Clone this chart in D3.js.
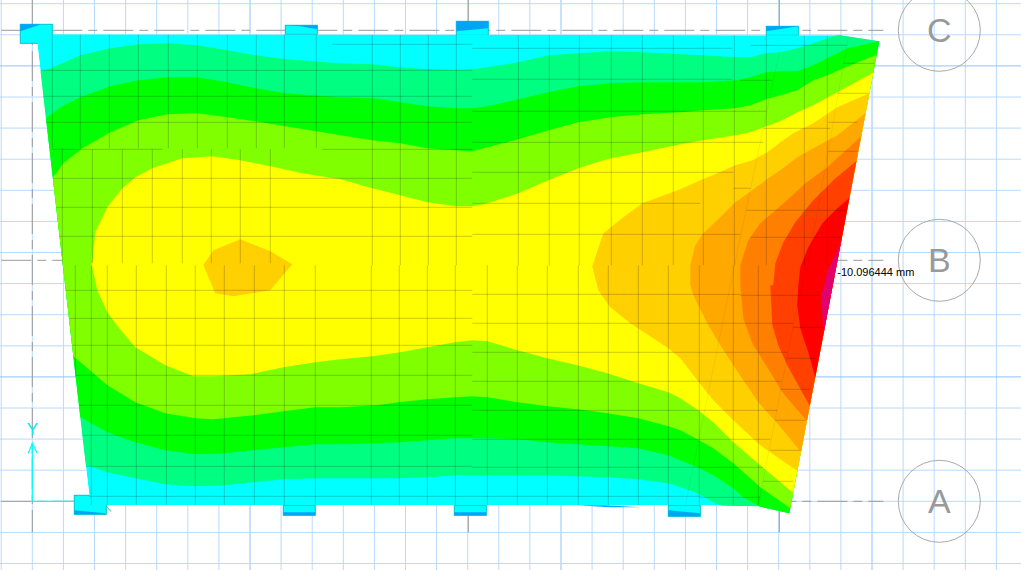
<!DOCTYPE html>
<html>
<head>
<meta charset="utf-8">
<script src="https://cdn.jsdelivr.net/npm/d3@7"></script>
<style>
  body { margin: 0; background: #fff; }
  svg { display: block; }
  text { font-family: "Liberation Sans", Arial, sans-serif; }
</style>
</head>
<body>
<div id="chart"></div>
<script>
var w = 1021;
var h = 570;

// plan coordinates, origin at grid intersection of the lower left axis
var gridStep = 31.1;
var gridX = d3.range(-1, 32);
var gridY = d3.range(-2, 17);
var gridMajorX = [7, 17, 27];
var gridMajorY = [4, 14];

var axisLabels = ["C", "B", "A"];
var axisY = [471, 241, 0];
var axisX = [0, 436, 747];
var bubbleX = 907;
var axisEndX = 851;
var axisEndY = -31;

var peakLabel = "-10.096444 mm";
var peakPoint = [805, 229];

var slabOutline = [[4,467],[438,466.5],[808,466],[847,460],[757,-12],[726,-5],[668,-4],[73,-4],[57,-4],[57,6]];

// column stubs: x0, x1, y0, y1
var columns = [
  [-12,20,458,477],
  [253,285,467,476],
  [424,456,466,480],
  [734,766,466,475],
  [42,74,-13,6],
  [251,283,-14,-4],
  [422,454,-14,-4],
  [636,668,-15,-4]
];
// the darker blue corners of the stubs
var columnBlue = [
  [[-12,477],[9,477],[-12,470]],
  [[253,476],[285,476],[285,472],[268,475]],
  [[424,480],[456,480],[456,473],[424,470]],
  [[734,475],[766,475],[734,470]],
  [[42,-9],[73,-12],[73,-13],[42,-13]],
  [[251,-11],[283,-11],[283,-14],[251,-14]],
  [[422,-11],[454,-11],[454,-14],[422,-14]],
  [[636,-9],[668,-12],[668,-15],[636,-15]],
  [[543,-4],[573,-4],[608,-6],[578,-6]]
];

// contour regions, drawn one over the other
var levelColors = ["#00ff80","#00ff00","#80ff00","#ffff00","#ffd000","#ffa800","#ff8000","#ff4000","#ff0000","#e0006e"];

var level1 = [[-32,428],[8,430],[18,433],[48,446],[78,453],[106,457],[135,458],[165,456],[195,451],[223,446],[253,442],[308,438],[340,437],[368,434],[395,432],[423,431],[440,432],[455,434],[486,439],[516,446],[546,448],[578,450],[610,449],[648,447],[671,446],[703,444],[718,444],[734,448],[748,449],[765,453],[781,458],[795,463],[805,466],[818,473],[868,473],[868,-29],[708,-24],[693,-6],[681,-1],[665,8],[648,14],[636,18],[606,22],[575,24],[545,25],[508,26],[423,26],[395,24],[366,23],[308,23],[283,23],[251,22],[221,19],[191,16],[163,15],[133,17],[103,23],[75,29],[54,36],[-32,45]];

var level2 = [[-32,375],[14,383],[28,394],[48,404],[78,415],[106,421],[135,424],[165,424],[195,419],[223,413],[253,408],[308,404],[341,403],[368,399],[395,395],[423,393],[440,393],[455,395],[486,402],[516,409],[546,415],[578,418],[610,419],[671,419],[703,421],[718,424],[734,429],[748,430],[765,430],[781,436],[795,443],[815,453],[847,460],[868,465],[868,-29],[758,-29],[727,-5],[711,4],[701,13],[681,26],[665,34],[648,41],[636,46],[606,53],[575,55],[545,57],[515,59],[485,62],[455,63],[423,63],[395,61],[366,59],[338,58],[308,57],[283,57],[251,54],[221,51],[191,48],[163,47],[133,51],[103,59],[75,69],[48,84],[-32,75]];

var level3 = [[-32,315],[20,323],[31,338],[50,353],[78,369],[106,381],[135,387],[165,388],[195,384],[223,380],[253,375],[308,366],[340,361],[368,358],[395,353],[423,351],[440,350],[455,354],[486,362],[516,371],[546,379],[578,384],[610,387],[648,389],[671,391],[703,393],[718,396],[734,402],[748,406],[765,411],[781,421],[795,426],[811,433],[843,446],[868,456],[868,-10],[758,-7],[728,14],[701,38],[681,53],[665,62],[648,71],[636,75],[606,83],[575,88],[545,92],[515,95],[485,99],[455,104],[440,105],[423,104],[395,102],[366,99],[345,96],[308,94],[283,94],[251,90],[221,86],[181,82],[163,83],[133,88],[103,99],[75,116],[41,145],[-32,135]];

var level4 = [[60,238],[63,269],[75,294],[90,313],[103,324],[120,333],[150,343],[180,345],[208,341],[238,335],[270,328],[308,322],[340,313],[368,306],[395,299],[423,295],[440,295],[455,298],[486,308],[516,321],[546,333],[578,343],[610,349],[648,357],[671,361],[703,366],[718,369],[734,375],[748,380],[765,389],[781,396],[805,409],[840,428],[868,441],[868,0],[760,9],[728,36],[701,59],[681,79],[666,91],[648,103],[636,109],[603,119],[575,128],[545,136],[515,143],[485,151],[455,160],[440,161],[423,159],[395,154],[368,149],[340,145],[308,142],[283,139],[251,134],[218,127],[181,125],[161,125],[133,136],[103,154],[86,174],[75,189],[65,211],[59,238]];

var level5small = [[171,236],[181,251],[208,262],[238,250],[260,237],[238,211],[201,205],[183,208]];

var level5 = [[560,235],[571,268],[591,284],[610,298],[648,312],[668,321],[685,328],[703,336],[720,341],[735,349],[748,359],[761,368],[781,378],[805,394],[837,408],[868,421],[868,30],[764,31],[728,56],[701,81],[681,101],[665,121],[648,143],[636,153],[598,178],[578,194],[566,211]];

var level6 = [[658,236],[663,256],[671,268],[688,284],[703,299],[720,311],[736,323],[748,331],[765,344],[781,353],[805,366],[833,388],[868,400],[868,50],[768,50],[745,78],[726,99],[701,136],[685,161],[675,178],[661,206],[658,216]];

var level7 = [[708,216],[708,236],[716,261],[728,278],[741,289],[758,304],[773,318],[795,334],[830,366],[868,380],[868,75],[774,81],[750,109],[738,129],[720,158],[711,183]];

var level8 = [[741,216],[743,238],[751,259],[763,279],[781,301],[801,321],[825,341],[868,355],[868,85],[777,96],[755,136],[746,156],[740,176],[738,216]];

var level9 = [[766,216],[768,234],[776,254],[790,278],[805,293],[818,304],[868,320],[868,110],[783,124],[776,149],[768,173],[765,196]];

var level10 = [[792,216],[795,229],[805,251],[810,264],[868,270],[868,150],[791,169],[789,206]];

var contourRegions = [
  [level1, 0], [level2, 1], [level3, 2], [level4, 3], [level5small, 4],
  [level5, 4], [level6, 5], [level7, 6], [level8, 7], [level9, 8], [level10, 9]
];

// mesh lines: group of column positions with their common span
var meshColGroups = [
  [[20,48,77,106,136,165,195,224,252,284], 467, 353],
  [[30,60,90,120,150,179,208,238], 352, 238],
  [[43,59,75,104,134,163,192,222,252,283], 236, -4],
  [[340,368,396,424], 467, 236],
  [[339,367,395,423], 236, -4],
  [[486,517,547,579,610,641,671,702,734,772,795], 466, 236],
  [[455,485,515,546,576,606,636,667,701,726], 236, -4]
];
// mesh rows: y, x0, x1
var meshRows = [
  [457,300,440],[431,0,440],[405,0,440],[379,0,440],[352,20,130],[352,290,440],[323,0,440],[294,0,440],[265,0,440],
  [211,25,440],[183,25,440],[156,25,440],[126,25,440],[96,25,440],[66,25,440],[35,25,440],[5,40,668],
  [453,440,700],[422,440,700],[390,440,734],[359,440,731],[329,440,701],[298,440,668],[267,440,708],
  [207,440,708],[178,440,761],[149,440,755],[120,440,749],[91,440,745],[62,440,738],[34,440,731],[4,668,728],
  [456,718,815],[438,811,843],[421,708,740],[408,805,836],[379,796,825],[373,731,798],[350,796,825],
  [313,701,718],[291,714,815],[264,718,808],[206,708,788],[174,761,791],[143,755,783],[112,748,778],
  [81,743,773],[51,738,768],[20,731,761]
];
// the two slanted mesh lines in the right hand part
var meshSlants = [
  [[748,454],[698,216],[653,-4]],
  [[816,464],[776,238],[765,196],[726,-4]]
];

// scales, one plan unit is one pixel on this view
var xScale = d3.scaleLinear().domain([0, 1000]).range([32.3, 1032.3]);
var yScale = d3.scaleLinear().domain([0, 1000]).range([501.3, -498.7]);

var line = d3.line().x(d => xScale(d[0])).y(d => yScale(d[1]));
var polygon = d => line(d) + "Z";

function drawGrid(svg) {
  var g = svg.append("g");
  g.selectAll(".gx").data(gridX).enter().append("line")
    .attr("x1", d => xScale(d * gridStep))
    .attr("x2", d => xScale(d * gridStep))
    .attr("y1", 0).attr("y2", h)
    .attr("stroke", d => gridMajorX.includes(d) ? "#8fc4fa" : "#b8dafc");
  g.selectAll(".gy").data(gridY).enter().append("line")
    .attr("y1", d => yScale(d * gridStep))
    .attr("y2", d => yScale(d * gridStep))
    .attr("x1", 0).attr("x2", w)
    .attr("stroke", d => gridMajorY.includes(d) ? "#8fc4fa" : "#b8dafc");
}

function drawAxes(svg) {
  var g = svg.append("g").attr("stroke", "#999").attr("fill", "none");
  g.selectAll(".ay").data(axisY).enter().append("line")
    .attr("x1", xScale(-31)).attr("x2", xScale(axisEndX))
    .attr("y1", d => yScale(d)).attr("y2", d => yScale(d))
    .attr("stroke-dasharray", "30 6 9 6");
  g.selectAll(".ax").data(axisX).enter().append("line")
    .attr("x1", d => xScale(d)).attr("x2", d => xScale(d))
    .attr("y1", 0).attr("y2", yScale(axisEndY))
    .attr("stroke-dasharray", "30 6 9 6");

  var b = svg.append("g");
  b.selectAll("circle").data(axisY).enter().append("circle")
    .attr("cx", xScale(bubbleX)).attr("cy", d => yScale(d)).attr("r", 41)
    .attr("fill", "none").attr("stroke", "#aaa");
  b.selectAll("text").data(axisLabels).enter().append("text")
    .attr("x", xScale(bubbleX))
    .attr("y", (d, i) => yScale(axisY[i]) + 12)
    .attr("text-anchor", "middle")
    .attr("font-size", 34)
    .attr("fill", "#999")
    .text(d => d);
}

function drawTriad(svg) {
  var g = svg.append("g").attr("stroke", "#00ffff").attr("fill", "none").attr("stroke-width", 1.2);
  g.append("path").attr("d", line([[0,58],[0,0]]));
  g.append("path").attr("d", line([[0,0],[60,0]]));
  g.append("path").attr("d", line([[-4,48],[0,58],[5,48]]));
  g.append("path").attr("d", line([[73,-4],[79,-10]])).attr("stroke", "#66cccc");
  svg.append("text")
    .attr("x", xScale(0)).attr("y", yScale(66))
    .attr("text-anchor", "middle")
    .attr("font-size", 17)
    .attr("fill", "#00e8f0")
    .text("Y");
}

function drawColumns(svg) {
  svg.append("g").selectAll("rect").data(columns).enter().append("rect")
    .attr("x", d => xScale(d[0]))
    .attr("width", d => xScale(d[1]) - xScale(d[0]))
    .attr("y", d => yScale(d[3]))
    .attr("height", d => yScale(d[2]) - yScale(d[3]))
    .attr("fill", "#00ffff")
    .attr("stroke", "#00c4cc");
  svg.append("g").selectAll("path").data(columnBlue).enter().append("path")
    .attr("d", polygon)
    .attr("fill", "#00a4f4");
}

function drawContours(svg) {
  svg.append("clipPath").attr("id", "slab")
    .append("path").attr("d", polygon(slabOutline));
  var g = svg.append("g").attr("clip-path", "url(#slab)");
  g.append("path").attr("d", polygon(slabOutline)).attr("fill", "#00ffff");
  g.selectAll(".level").data(contourRegions).enter().append("path")
    .attr("d", d => polygon(d[0]))
    .attr("fill", d => levelColors[d[1]]);

  var mesh = g.append("g").attr("stroke", "#000").attr("stroke-opacity", 0.2).attr("fill", "none");
  meshColGroups.forEach(function(c) {
    mesh.selectAll(null).data(c[0]).enter().append("line")
      .attr("x1", d => xScale(d)).attr("x2", d => xScale(d))
      .attr("y1", yScale(c[1])).attr("y2", yScale(c[2]));
  });
  mesh.selectAll(null).data(meshRows).enter().append("line")
    .attr("x1", d => xScale(d[1])).attr("x2", d => xScale(d[2]))
    .attr("y1", d => yScale(d[0])).attr("y2", d => yScale(d[0]));
  mesh.selectAll(null).data(meshSlants).enter().append("path")
    .attr("d", line)
    .attr("stroke-opacity", 0.06);
}

function main() {
  var svg = d3.select("#chart").append("svg").attr("width", w).attr("height", h);
  drawGrid(svg);
  drawAxes(svg);
  drawTriad(svg);
  drawColumns(svg);
  drawContours(svg);
  svg.append("text")
    .attr("x", xScale(peakPoint[0]))
    .attr("y", yScale(peakPoint[1]) + 3.5)
    .attr("font-size", 11)
    .attr("fill", "#000")
    .text(peakLabel);
}

window.onload = function() {
  main();
};
</script>
</body>
</html>
